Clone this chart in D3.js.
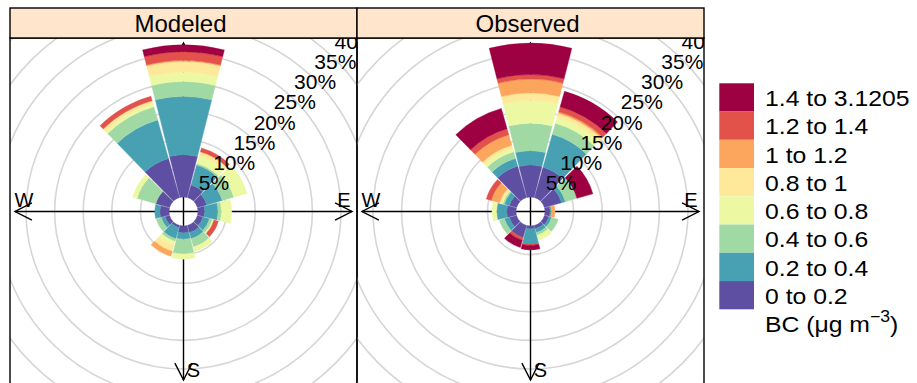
<!DOCTYPE html>
<html>
<head>
<meta charset="utf-8">
<script src="https://cdn.jsdelivr.net/npm/d3@7"></script>
<style>
  html, body { margin: 0; padding: 0; background: #fff; }
  svg { display: block; }
  text { font-family: "Liberation Sans", Arial, Helvetica, sans-serif; fill: #000; }
</style>
</head>
<body>
<svg id="chart" width="917" height="383"></svg>
<script>
// Wind directions (degrees, clockwise from north), one petal each
const directions = [0, 30, 60, 90, 120, 150, 180, 210, 240, 270, 300, 330];

// Concentration bands, lowest first
const bandLabels = ["0 to 0.2", "0.2 to 0.4", "0.4 to 0.6", "0.6 to 0.8",
                    "0.8 to 1", "1 to 1.2", "1.2 to 1.4", "1.4 to 3.1205"];
const bandColours = ["#5E4FA2", "#48A1B3", "#A1D9A4", "#EDF8A3",
                     "#FEE99A", "#FCA55D", "#E2524A", "#9E0142"];

// Frequency (%) of each band, per direction: modeled
const modeled = [
  [7.4, 10.2, 2.6, 1.6, 1.9, 0.2, 1.5, 1.2],
  [2.3, 3.6, 0.3, 1.4, 0.7, 0.0, 0.7, 0.0],
  [1.7, 2.8, 2.1, 2.4, 0.0, 0.0, 0.0, 0.0],
  [1.2, 2.3, 0.6, 1.8, 0.0, 0.0, 0.0, 0.0],
  [1.0, 1.2, 0.5, 0.3, 0.0, 0.0, 0.8, 0.0],
  [1.3, 1.1, 1.5, 0.8, 0.0, 0.0, 0.0, 0.0],
  [1.2, 1.1, 2.6, 0.9, 0.0, 0.0, 0.0, 0.0],
  [0.4, 2.0, 0.5, 0.7, 1.1, 0.9, 0.0, 0.0],
  [0.8, 0.7, 0.9, 0.0, 0.0, 0.0, 0.0, 0.0],
  [1.6, 0.9, 0.0, 0.0, 0.0, 0.0, 0.0, 0.0],
  [2.5, 0.0, 3.4, 0.8, 0.0, 0.0, 0.0, 0.0],
  [7.1, 7.0, 2.4, 0.5, 0.6, 0.0, 0.8, 0.0]
];

// Frequency (%) of each band, per direction: observed
const observed = [
  [5.6, 2.5, 4.8, 4.0, 1.3, 2.4, 0.8, 5.5],
  [5.5, 6.0, 2.0, 1.1, 0.7, 0.3, 0.9, 2.8],
  [3.1, 0.7, 2.1, 0.0, 0.0, 0.0, 0.0, 2.9],
  [0.9, 0.2, 0.0, 0.0, 0.0, 0.65, 0.0, 0.0],
  [0.8, 0.5, 1.2, 0.0, 0.0, 0.0, 0.0, 0.0],
  [0.6, 0.7, 0.5, 0.9, 0.0, 0.0, 0.0, 0.0],
  [0.5, 2.7, 0.0, 0.0, 0.0, 0.0, 0.2, 0.8],
  [2.2, 0.0, 0.0, 0.0, 0.0, 0.0, 0.5, 1.3],
  [1.3, 0.9, 0.9, 0.0, 0.0, 0.0, 0.0, 0.0],
  [1.6, 1.8, 0.0, 0.8, 0.0, 0.0, 0.0, 0.0],
  [1.3, 0.9, 0.3, 0.2, 0.4, 1.5, 0.9, 0.0],
  [5.7, 1.4, 1.2, 0.7, 0.5, 1.9, 1.1, 3.7]
];

const panelNames = ["Modeled", "Observed"];
const ringTicks = [5, 10, 15, 20, 25, 30, 35, 40];
const legendTitle = "BC (μg m";

// ---- layout ----
const svg = d3.select("#chart");
const panelW = 347, panelH = 347;
const panelX = [10, 357];
const stripTop = 8, stripH = 30;
const panelTop = stripTop + stripH;
const holeR = 14.5;
const r = d3.scaleLinear().domain([0, 40]).range([holeR, holeR + 40 * 5.72]);
const armLen = 168.5;          // length of the compass axes from the centre
const halfWidth = 14.2 * Math.PI / 180;

const arc = d3.arc();

function drawPanel(i, data) {
  const x0 = panelX[i];
  const cx = x0 + panelW / 2, cy = panelTop + panelH / 2;

  const clipId = "clip" + i;
  svg.append("clipPath").attr("id", clipId)
    .append("rect").attr("x", x0).attr("y", panelTop)
    .attr("width", panelW).attr("height", panelH);

  const g = svg.append("g").attr("clip-path", `url(#${clipId})`);

  // frequency rings
  g.selectAll("circle.ring").data(ringTicks).join("circle")
    .attr("class", "ring")
    .attr("cx", cx).attr("cy", cy).attr("r", d => r(d))
    .attr("fill", "none").attr("stroke", "#D6D6D6").attr("stroke-width", 1.6);

  // compass axes with arrow heads
  const ax = g.append("g").attr("stroke", "#000").attr("stroke-width", 1.4)
    .attr("fill", "none");
  ax.append("line").attr("x1", cx - armLen).attr("y1", cy)
    .attr("x2", cx + armLen).attr("y2", cy);
  ax.append("line").attr("x1", cx).attr("y1", cy - armLen)
    .attr("x2", cx).attr("y2", cy + armLen);
  const headL = 19, headA = 27 * Math.PI / 180;
  const tips = [
    [cx - armLen, cy, Math.PI], [cx + armLen, cy, 0],
    [cx, cy + armLen, Math.PI / 2], [cx, cy - armLen, -Math.PI / 2]
  ];
  tips.forEach(([tx, ty, a]) => {
    const p1 = [tx - headL * Math.cos(a - headA), ty - headL * Math.sin(a - headA)];
    const p2 = [tx - headL * Math.cos(a + headA), ty - headL * Math.sin(a + headA)];
    ax.append("polyline").attr("points", `${p1} ${tx},${ty} ${p2}`);
  });

  // compass letters
  const compass = [
    ["N", cx + 10, cy - armLen + 12],
    ["W", cx - armLen + 9, cy - 12],
    ["E", cx + armLen - 8, cy - 12],
    ["S", cx + 10, cy + armLen - 10]
  ];
  g.selectAll("text.compass").data(compass).join("text")
    .attr("class", "compass")
    .attr("x", d => d[1]).attr("y", d => d[2])
    .attr("text-anchor", "middle").attr("dominant-baseline", "central")
    .attr("font-size", 20).text(d => d[0]);

  // stacked petals
  directions.forEach((dir, k) => {
    const a = dir * Math.PI / 180;
    let cum = 0;
    data[k].forEach((v, b) => {
      if (v <= 0) return;
      const inner = cum;
      cum += v;
      g.append("path")
        .attr("transform", `translate(${cx},${cy})`)
        .attr("d", arc({
          innerRadius: r(inner), outerRadius: r(cum),
          startAngle: a - halfWidth, endAngle: a + halfWidth
        }))
        .attr("fill", bandColours[b])
        .attr("stroke", bandColours[b]).attr("stroke-width", 0.4);
    });
  });

  // ring labels along the north-east diagonal
  const s = Math.SQRT1_2;
  g.selectAll("text.tick").data(ringTicks).join("text")
    .attr("class", "tick")
    .attr("transform", d => `translate(${cx + r(d) * s},${cy - r(d) * s + 2}) scale(1.05,1)`)
    .attr("text-anchor", "middle").attr("dominant-baseline", "central")
    .attr("font-size", 20)
    .text(d => d + "%");

  // panel frame
  svg.append("rect").attr("x", x0).attr("y", panelTop)
    .attr("width", panelW).attr("height", panelH)
    .attr("fill", "none").attr("stroke", "#000").attr("stroke-width", 1.4);

  // strip
  svg.append("rect").attr("x", x0).attr("y", stripTop)
    .attr("width", panelW).attr("height", stripH)
    .attr("fill", "#FFE5CC").attr("stroke", "#000").attr("stroke-width", 1.4);
  svg.append("text").attr("x", cx - 3).attr("y", stripTop + 24)
    .attr("text-anchor", "middle").attr("font-size", 24)
    .text(panelNames[i]);
}

drawPanel(0, modeled);
drawPanel(1, observed);

// ---- legend ----
const legX = 719.3, legY = 83.3, boxW = 34.7, boxH = 28.25;
const order = d3.range(bandLabels.length).reverse();
const leg = svg.append("g");
order.forEach((b, j) => {
  leg.append("rect").attr("x", legX).attr("y", legY + j * boxH)
    .attr("width", boxW).attr("height", boxH)
    .attr("fill", bandColours[b]);
  leg.append("text")
    .attr("transform", `translate(765,${legY + j * boxH + boxH / 2 + 1}) scale(1.1,1)`)
    .attr("dominant-baseline", "central").attr("font-size", 22.5)
    .text(bandLabels[b]);
});
const title = leg.append("text")
  .attr("transform", `translate(765,${legY + 8 * boxH + boxH / 2 + 1}) scale(1.1,1)`)
  .attr("dominant-baseline", "central").attr("font-size", 22.5);
title.append("tspan").text(legendTitle);
title.append("tspan").attr("font-size", 16).attr("dy", -8).text("−3");
title.append("tspan").attr("dy", 8).text(")");
</script>
</body>
</html>
